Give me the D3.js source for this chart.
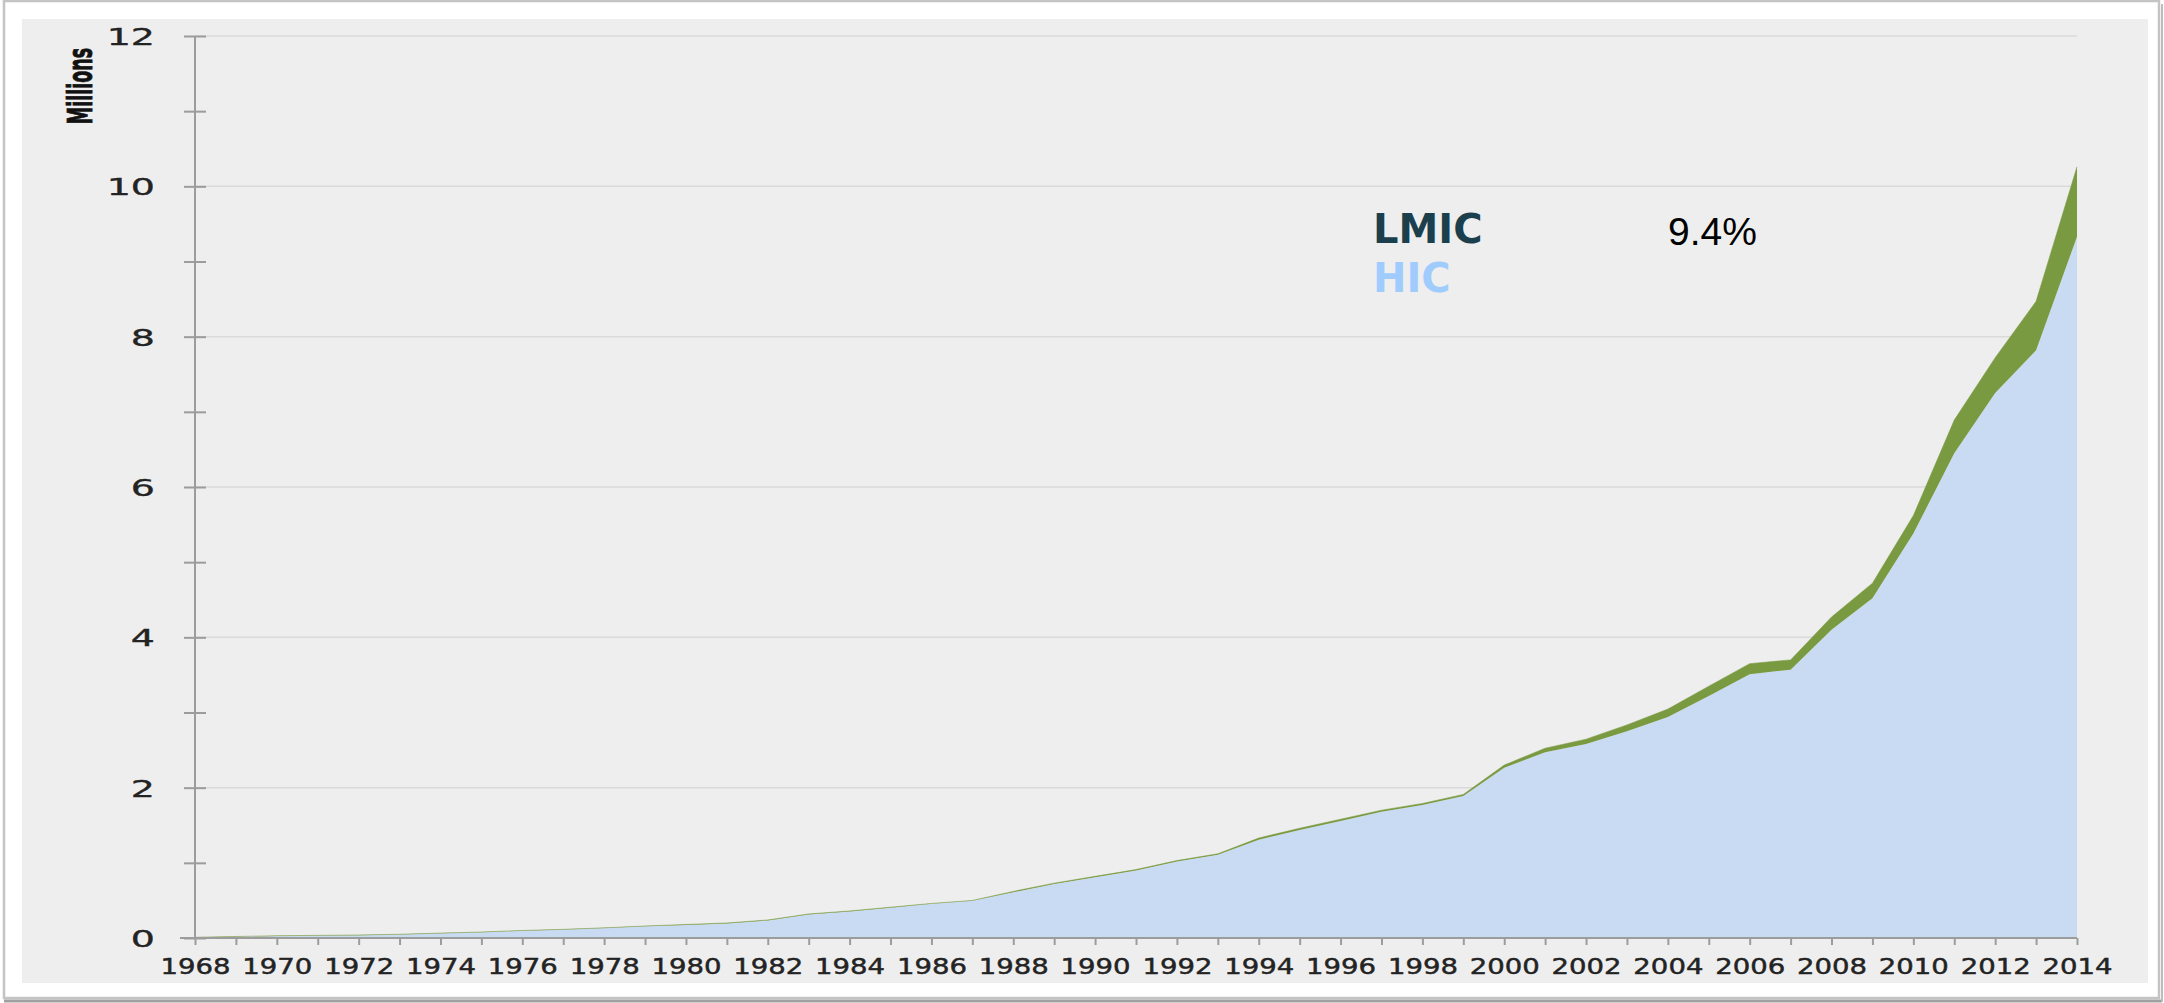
<!DOCTYPE html>
<html>
<head>
<meta charset="utf-8">
<script src="https://cdn.jsdelivr.net/npm/d3@7"></script>
<style>
  html, body { margin: 0; padding: 0; background: #ffffff; }
  svg { display: block; }
</style>
</head>
<body>
<svg id="chart" width="2164" height="1003"></svg>
<script>
// ---------- data ----------
const years = d3.range(1968, 2015);
const hic = [0.007, 0.017, 0.027, 0.032, 0.037, 0.047, 0.062, 0.077, 0.097, 0.112, 0.132, 0.157,
             0.174, 0.194, 0.234, 0.314, 0.354, 0.404, 0.454, 0.494,
             0.608, 0.718, 0.808, 0.898, 1.018, 1.108,
             1.308, 1.438, 1.558, 1.678, 1.768, 1.888,
             2.265, 2.47, 2.58, 2.75, 2.94, 3.22, 3.51, 3.57, 4.10, 4.52, 5.38, 6.45, 7.25, 7.82, 9.33];
const lmic = [0.003, 0.003, 0.003, 0.003, 0.003, 0.003, 0.003, 0.003, 0.003, 0.003, 0.003, 0.003,
              0.006, 0.006, 0.006, 0.006, 0.006, 0.006, 0.006, 0.006,
              0.012, 0.012, 0.012, 0.012, 0.012, 0.012,
              0.022, 0.022, 0.022, 0.022, 0.022, 0.022,
              0.035, 0.055, 0.065, 0.085, 0.105, 0.13, 0.14, 0.13, 0.17, 0.20, 0.24, 0.44, 0.47, 0.65, 0.93];
const yTickValues = d3.range(0, 13, 1);
const yLabelValues = [0, 2, 4, 6, 8, 10, 12];
const xLabelYears = d3.range(1968, 2015, 2);
const yAxisTitle = "Millions";
const legendLabels = ["LMIC", "HIC"];
const shareLabel = "9.4%";

// ---------- layout ----------
const svg = d3.select("#chart");
const W = 2164, H = 1003;

const x = d3.scaleLinear().domain([1968, 2014]).range([195, 2077]);
const y = d3.scaleLinear().domain([0, 12]).range([938, 36]);

// outer frame
svg.append("rect").attr("x", 0).attr("y", 0).attr("width", W).attr("height", H).attr("fill", "#ffffff");
svg.append("rect").attr("x", 4).attr("y", 1).attr("width", 2155).attr("height", 997)
  .attr("fill", "#ffffff").attr("stroke", "#c4c4c4").attr("stroke-width", 2.5);
svg.append("line").attr("x1", 4).attr("x2", 2162).attr("y1", 1001).attr("y2", 1001)
  .attr("stroke", "#a0a0a0").attr("stroke-width", 3);
svg.append("line").attr("x1", 2162).attr("x2", 2162).attr("y1", 4).attr("y2", 1002)
  .attr("stroke", "#bdbdbd").attr("stroke-width", 2);

// panel
svg.append("rect").attr("x", 22).attr("y", 19).attr("width", 2126).attr("height", 964)
  .attr("fill", "#eeeeee");

// gridlines
svg.append("g").selectAll("line").data(yLabelValues.filter(v => v > 0)).join("line")
  .attr("x1", x(1968)).attr("x2", x(2014))
  .attr("y1", d => y(d)).attr("y2", d => y(d))
  .attr("stroke", "#dadada").attr("stroke-width", 1.5);

// stacked areas
const table = years.map((yr, i) => ({ year: yr, HIC: hic[i], LMIC: lmic[i] }));
const stack = d3.stack().keys(["HIC", "LMIC"]);
const series = stack(table);
const colors = { HIC: "#c9dbf2", LMIC: "#7a9a41" };
const area = d3.area()
  .x(d => x(d.data.year))
  .y0(d => y(d[0]))
  .y1(d => y(d[1]));

svg.append("g").selectAll("path").data(series).join("path")
  .attr("d", area)
  .attr("fill", d => colors[d.key]);

// thin edge on top of the stack
const topLine = d3.line().x(d => x(d.data.year)).y(d => y(d[1]));
svg.append("path").datum(series[1]).attr("d", topLine)
  .attr("fill", "none").attr("stroke", "#7a9a41").attr("stroke-width", 1).attr("stroke-opacity", 0.55);

// ---------- axes ----------
const axisColor = "#9c9c9c";
const textColor = "#232323";

// x axis
const xAxis = d3.axisBottom(x).tickValues(years).tickSize(7).tickSizeOuter(0)
  .tickFormat(d => (d % 2 === 0 ? String(d) : ""));
const gx = svg.append("g").attr("transform", `translate(0,${y(0)})`).call(xAxis);
gx.select(".domain").remove();
gx.selectAll(".tick line").attr("stroke", axisColor).attr("stroke-width", 2);
gx.selectAll(".tick text")
  .attr("y", null).attr("dy", null)
  .attr("transform", "translate(0,36) scale(1.28,1)")
  .attr("font-family", "'DejaVu Sans', Verdana, sans-serif")
  .attr("font-size", 21.5)
  .attr("fill", textColor)
  .attr("stroke", textColor).attr("stroke-width", 0.45);
svg.append("line").attr("x1", 180).attr("x2", x(2014)).attr("y1", y(0)).attr("y2", y(0))
  .attr("stroke", axisColor).attr("stroke-width", 2);

// y axis
const yAxis = d3.axisLeft(y).tickValues(yTickValues).tickSize(11).tickSizeOuter(0)
  .tickFormat(d => (yLabelValues.includes(d) ? String(d) : ""));
const gy = svg.append("g").attr("transform", `translate(${x(1968)},0)`).call(yAxis);
gy.select(".domain").remove();
gy.selectAll(".tick line").attr("x1", -11).attr("x2", 11)
  .attr("stroke", axisColor).attr("stroke-width", 2);
gy.selectAll(".tick text")
  .attr("x", null).attr("dy", null)
  .attr("text-anchor", "end")
  .attr("transform", "translate(-40,8.5) scale(1.65,1)")
  .attr("font-family", "'DejaVu Sans', Verdana, sans-serif")
  .attr("font-size", 23)
  .attr("fill", textColor)
  .attr("stroke", textColor).attr("stroke-width", 0.35);
svg.append("line").attr("x1", x(1968)).attr("x2", x(1968)).attr("y1", y(12)).attr("y2", y(0))
  .attr("stroke", axisColor).attr("stroke-width", 2);

// y axis title
svg.append("text")
  .attr("transform", "translate(92,86) scale(1.7,1) rotate(-90)")
  .attr("text-anchor", "middle")
  .attr("font-family", "'DejaVu Sans Condensed', 'DejaVu Sans', sans-serif")
  .attr("font-weight", "bold")
  .attr("font-size", 19.5)
  .attr("fill", "#111111")
  .attr("stroke", "#111111").attr("stroke-width", 0.5)
  .text(yAxisTitle);

// legend overlay
svg.append("text").attr("x", 1373).attr("y", 243)
  .attr("font-family", "'DejaVu Sans', Verdana, sans-serif").attr("font-weight", "bold")
  .attr("font-size", 40).attr("fill", "#1b3f4c").text(legendLabels[0]);
svg.append("text").attr("x", 1373).attr("y", 292)
  .attr("font-family", "'DejaVu Sans', Verdana, sans-serif").attr("font-weight", "bold")
  .attr("font-size", 40).attr("fill", "#a0ccfd").text(legendLabels[1]);
svg.append("text").attr("x", 1668).attr("y", 245)
  .attr("font-family", "'Liberation Sans', Arial, sans-serif")
  .attr("font-size", 39).attr("fill", "#000000").text(shareLabel);
</script>
</body>
</html>
